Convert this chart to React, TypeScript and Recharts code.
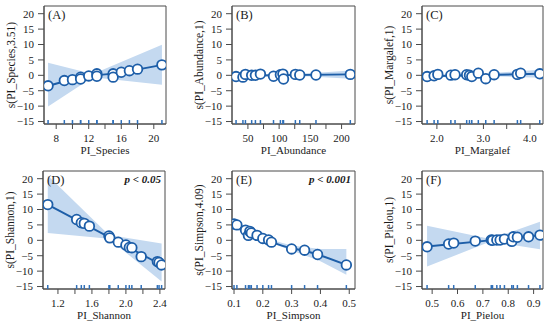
import { ComposedChart, Area, Line, Scatter, XAxis, YAxis, ReferenceArea } from 'recharts';

const FONT = 'Liberation Serif, Times New Roman, serif';
const BLUE = '#1d5ea8';
const RUG = '#2f6fb8';
const BAND = '#c4d9f0';
const AXIS = '#4a4a4a';
const TEXT = '#1a1a1a';

const Y_DOMAIN: [number, number] = [-15.8, 22.5];
const Y_TICKS = [-15, -10, -5, 0, 5, 10, 15, 20];
const RUG_Y = -15;

// (A) PI_Species
const speciesX = [7, 9, 10, 11, 11, 12, 13, 13, 15, 15, 16, 17, 18, 21];
const speciesY = [-3.4, -1.7, -1.4, -0.6, -1.2, -0.2, 0.5, -0.3, 0.5, -0.6, 1.0, 1.5, 2.0, 3.4];
const speciesFitX = [7, 9, 11, 13, 15, 16, 18, 21];
const speciesFitY = [-3.4, -2.0, -0.9, 0.0, 0.6, 1.0, 1.9, 3.4];
const speciesBandX = [7, 12.5, 21];
const speciesBandLo = [-10.1, -0.6, -3.1];
const speciesBandHi = [4.1, 0.4, 9.9];

// (B) PI_Abundance
const abundX = [31, 42, 46, 56, 62, 70, 91, 102, 106, 107, 126, 133, 159, 214];
const abundY = [-0.4, -0.6, 0.3, 0.0, 0.0, 0.4, -0.3, 0.2, 0.4, -1.2, 0.3, 0.1, 0.1, 0.3];
const abundFitX = [31, 214];
const abundFitY = [-0.1, 0.3];
const abundBandX = [31, 100, 150, 214];
const abundBandLo = [-0.7, -0.2, -0.4, -1.1];
const abundBandHi = [0.5, 0.3, 0.7, 1.6];

// (C) PI_Margalef
const margX = [1.79, 1.94, 2.02, 2.3, 2.39, 2.64, 2.7, 2.75, 2.89, 3.05, 3.23, 3.73, 3.8, 4.21];
const margY = [-0.4, -0.15, 0.3, 0.05, 0.2, 0.2, 0.0, -0.4, 0.7, -1.1, 0.2, 0.3, 0.7, 0.5];
const margFitX = [1.79, 4.21];
const margFitY = [-0.3, 0.5];
const margBandX = [1.79, 2.8, 4.21];
const margBandLo = [-0.9, -0.1, -0.8];
const margBandHi = [0.3, 0.3, 1.8];

// (D) PI_Shannon
const shanX = [1.08, 1.42, 1.475, 1.51, 1.57, 1.8, 1.81, 1.91, 2.0, 2.04, 2.07, 2.18, 2.37, 2.39, 2.42];
const shanY = [11.6, 6.75, 5.7, 5.5, 4.6, 1.4, 0.8, -0.6, -1.5, -2.3, -2.4, -5.3, -6.9, -7.2, -8.0];
const shanFitX = [1.08, 2.42];
const shanFitY = [11.6, -8.0];
const shanBandX = [1.08, 1.8, 2.42];
const shanBandLo = [2.4, 0.5, -13.4];
const shanBandHi = [21, 1.7, -1.0];

// (E) PI_Simpson
const simpX = [0.1, 0.11, 0.14, 0.15, 0.155, 0.16, 0.18, 0.2, 0.22, 0.23, 0.3, 0.345, 0.39, 0.49];
const simpY = [5.3, 5.0, 3.3, 1.6, 2.9, 2.4, 1.6, 0.6, 0.1, -0.6, -2.8, -3.2, -4.6, -8.0];
const simpFitX = [0.1, 0.14, 0.16, 0.2, 0.23, 0.3, 0.345, 0.39, 0.49];
const simpFitY = [5.3, 3.3, 2.2, 0.5, -0.6, -2.6, -3.4, -4.6, -8.0];
const simpBandX = [0.1, 0.15, 0.2, 0.25, 0.3, 0.4, 0.49];
const simpBandLo = [3.8, 2.0, -0.1, -1.6, -3.3, -6.8, -11.2];
const simpBandHi = [6.8, 3.6, 1.3, -0.4, -1.7, -2.8, -2.8];

// (F) PI_Pielou
const pielX = [0.48, 0.565, 0.585, 0.67, 0.733, 0.738, 0.755, 0.768, 0.785, 0.814, 0.82, 0.836, 0.88, 0.925];
const pielY = [-2.1, -1.2, -0.9, -0.25, 0.1, 0.0, 0.1, 0.1, 0.4, -0.35, 1.15, 1.0, 1.15, 1.7];
const pielFitX = [0.48, 0.925];
const pielFitY = [-2.0, 1.6];
const pielBandX = [0.48, 0.73, 0.925];
const pielBandLo = [-8.5, -0.4, -2.9];
const pielBandHi = [4.7, 0.4, 6.0];

const fmtMinus = (v: number) => (v < 0 ? `\u2212${Math.abs(v)}` : String(v));

type PanelProps = {
  left: number;
  top: number;
  plotW: number;
  tag: string;
  pText?: string;
  xTitle: string;
  yTitle: string;
  xDomain: [number, number];
  xTicks: number[];
  xLabeled: number[];
  digits: number;
  px: number[];
  py: number[];
  fx: number[];
  fy: number[];
  bx: number[];
  blo: number[];
  bhi: number[];
};

function Panel(p: PanelProps) {
  const points = p.px.map((x, i) => ({ x, y: p.py[i] }));
  const rug = p.px.map((x) => ({ x, y: RUG_Y }));
  const fit = p.fx.map((x, i) => ({ x, fit: p.fy[i] }));
  const band = p.bx.map((x, i) => ({ x, range: [p.blo[i], p.bhi[i]] }));

  const renderXTick = (props: any) => {
    const { x, y, payload } = props;
    const v = payload.value as number;
    const show = p.xLabeled.some((l) => Math.abs(l - v) < 1e-6);
    return (
      <text x={x} y={y + 10.5} textAnchor="middle" fontSize={11} fontFamily={FONT} fill={TEXT}>
        {show ? v.toFixed(p.digits) : ''}
      </text>
    );
  };

  const renderYTick = (props: any) => {
    const { x, y, payload } = props;
    return (
      <text x={x} y={y + 3.8} textAnchor="end" fontSize={11} fontFamily={FONT} fill={TEXT}>
        {fmtMinus(payload.value)}
      </text>
    );
  };

  return (
    <div style={{ position: 'absolute', left: p.left - 45, top: p.top - 6 }}>
      <ComposedChart
        width={45 + p.plotW + 4}
        height={6 + 118 + 36}
        margin={{ top: 6, right: 4, bottom: 0, left: 0 }}
      >
        <XAxis
          type="number"
          dataKey="x"
          domain={p.xDomain}
          ticks={p.xTicks}
          interval={0}
          allowDataOverflow
          height={36}
          stroke={AXIS}
          tickSize={5}
          tick={renderXTick}
          label={{ value: p.xTitle, position: 'insideBottom', offset: 6, fontSize: 11, fontFamily: FONT, fill: TEXT }}
        />
        <YAxis
          type="number"
          dataKey="y"
          domain={Y_DOMAIN}
          ticks={Y_TICKS}
          interval={0}
          allowDataOverflow
          width={45}
          stroke={AXIS}
          tickSize={6}
          tickMargin={4}
          tick={renderYTick}
          label={{
            value: p.yTitle,
            angle: -90,
            position: 'insideLeft',
            offset: 12,
            fontSize: 11.5,
            fontFamily: FONT,
            fill: TEXT,
            style: { textAnchor: 'middle' },
          }}
        />
        <Area
          data={band}
          dataKey="range"
          type="linear"
          stroke="none"
          fill={BAND}
          fillOpacity={1}
          isAnimationActive={false}
        />
        <Line
          data={fit}
          dataKey="fit"
          type="monotone"
          stroke={BLUE}
          strokeWidth={1.9}
          dot={false}
          isAnimationActive={false}
        />
        <Scatter
          data={points}
          isAnimationActive={false}
          shape={(s: any) => <circle cx={s.cx} cy={s.cy} r={4.8} fill="#fff" stroke={BLUE} strokeWidth={1.8} />}
        />
        <Scatter
          data={rug}
          isAnimationActive={false}
          shape={(s: any) => <line x1={s.cx} x2={s.cx} y1={s.cy - 1.5} y2={s.cy + 4.5} stroke={RUG} strokeWidth={1.5} />}
        />
        <ReferenceArea
          x1={p.xDomain[0]}
          x2={p.xDomain[1]}
          y1={Y_DOMAIN[0]}
          y2={Y_DOMAIN[1]}
          fill="none"
          stroke={AXIS}
          strokeWidth={1}
          ifOverflow="visible"
          label={{ value: p.tag, position: 'insideTopLeft', offset: 4, fontSize: 12.5, fontFamily: FONT, fill: TEXT }}
        />
        {p.pText && (
          <ReferenceArea
            x1={p.xDomain[0]}
            x2={p.xDomain[1]}
            y1={Y_DOMAIN[0]}
            y2={Y_DOMAIN[1]}
            fill="none"
            stroke="none"
            ifOverflow="visible"
            label={{
              value: p.pText,
              position: 'insideTopRight',
              offset: 4,
              fontSize: 11,
              fontFamily: FONT,
              fontWeight: 'bold',
              fontStyle: 'italic',
              fill: TEXT,
            }}
          />
        )}
      </ComposedChart>
    </div>
  );
}

export default function App() {
  const ROW1 = 5.7;
  const ROW2 = 170.7;
  return (
    <div style={{ position: 'absolute', left: 0, top: 0, width: 550, height: 324, background: '#fff', fontFamily: FONT }}>
      <Panel
        left={43.5} top={ROW1} plotW={122} tag="(A)"
        xTitle="PI_Species" yTitle="s(PI_Species,3.51)"
        xDomain={[6.5, 21.5]} xTicks={[8, 10, 12, 14, 16, 18, 20]} xLabeled={[8, 12, 16, 20]} digits={0}
        px={speciesX} py={speciesY} fx={speciesFitX} fy={speciesFitY}
        bx={speciesBandX} blo={speciesBandLo} bhi={speciesBandHi}
      />
      <Panel
        left={232.3} top={ROW1} plotW={123} tag="(B)"
        xTitle="PI_Abundance" yTitle="s(PI_Abundance,1)"
        xDomain={[24.5, 221.5]} xTicks={[50, 75, 100, 125, 150, 175, 200]} xLabeled={[50, 100, 150, 200]} digits={0}
        px={abundX} py={abundY} fx={abundFitX} fy={abundFitY}
        bx={abundBandX} blo={abundBandLo} bhi={abundBandHi}
      />
      <Panel
        left={421.7} top={ROW1} plotW={121} tag="(C)"
        xTitle="PI_Margalef" yTitle="s(PI_Margalef,1)"
        xDomain={[1.68, 4.28]} xTicks={[2, 2.5, 3, 3.5, 4]} xLabeled={[2, 3, 4]} digits={1}
        px={margX} py={margY} fx={margFitX} fy={margFitY}
        bx={margBandX} blo={margBandLo} bhi={margBandHi}
      />
      <Panel
        left={43.3} top={ROW2} plotW={122} tag="(D)" pText="p < 0.05"
        xTitle="PI_Shannon" yTitle="s(PI_Shannon,1)"
        xDomain={[1.024, 2.46]} xTicks={[1.2, 1.4, 1.6, 1.8, 2.0, 2.2, 2.4]} xLabeled={[1.2, 1.6, 2.0, 2.4]} digits={1}
        px={shanX} py={shanY} fx={shanFitX} fy={shanFitY}
        bx={shanBandX} blo={shanBandLo} bhi={shanBandHi}
      />
      <Panel
        left={232.3} top={ROW2} plotW={123} tag="(E)" pText="p < 0.001"
        xTitle="PI_Simpson" yTitle="s(PI_Simpson,4.09)"
        xDomain={[0.093, 0.52]} xTicks={[0.1, 0.2, 0.3, 0.4, 0.5]} xLabeled={[0.1, 0.2, 0.3, 0.4, 0.5]} digits={1}
        px={simpX} py={simpY} fx={simpFitX} fy={simpFitY}
        bx={simpBandX} blo={simpBandLo} bhi={simpBandHi}
      />
      <Panel
        left={421.7} top={ROW2} plotW={121} tag="(F)"
        xTitle="PI_Pielou" yTitle="s(PI_Pielou,1)"
        xDomain={[0.46, 0.937]} xTicks={[0.5, 0.6, 0.7, 0.8, 0.9]} xLabeled={[0.5, 0.6, 0.7, 0.8, 0.9]} digits={1}
        px={pielX} py={pielY} fx={pielFitX} fy={pielFitY}
        bx={pielBandX} blo={pielBandLo} bhi={pielBandHi}
      />
    </div>
  );
}
